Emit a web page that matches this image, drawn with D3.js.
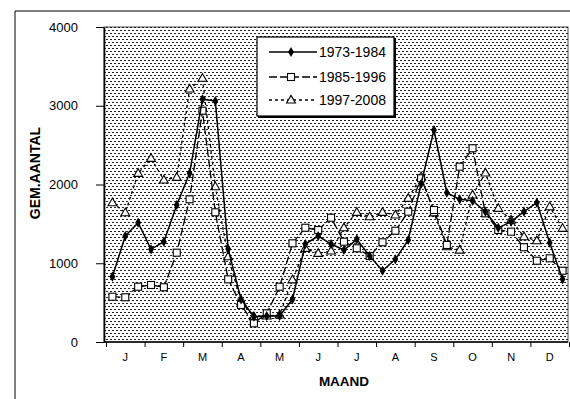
<!DOCTYPE html>
<html><head><meta charset="utf-8">
<script src="https://cdn.jsdelivr.net/npm/d3@7"></script>
<style>
body{margin:0;background:#fff}
svg{display:block}
text{font-family:Arial,"Liberation Sans",sans-serif;fill:#000}
</style></head>
<body><svg id="c" width="570" height="399"></svg>
<script>
// ---- data ----
const months = ["J","F","M","A","M","J","J","A","S","O","N","D"];
const seriesNames = ["1973-1984","1985-1996","1997-2008"];
const s1973 = [829,1346,1515, 1177,1274,1740, 2142,3082,3060, 1181,542,321, 330,330,542, 1244,1346,1244, 1168,1304,1092, 905,1050,1295, 2006,2692,1896, 1812,1794,1655, 1450,1528,1655, 1769,1261,796];
const s1985 = [575,568,702, 724,695,1134, 1812,2937,1647, 796,470,237, 364,702,1253, 1451,1422,1578, 1274,1190,1092, 1266,1413,1655, 2079,1676,1232, 2226,2460,1634, 1422,1401,1203, 1032,1063,905];
const s1997 = [1769,1642,2142, 2333,2057,2091, 3213,3349,1972, 1083,512,321, 330,343,790, 1190,1126,1156, 1451,1647,1591, 1647,1613,1825, 2099,1640,1210, 1168,1867,2146, 1698,1549,1337, 1286,1718,1444];
const yTicks = [0,1000,2000,3000,4000];

// ---- layout ----
const svg = d3.select("#c");
const L = 104, R = 568, T = 27, B = 342;
const xr = [106, 569];
const x = d3.scaleBand().domain(d3.range(36)).range(xr).padding(0);
const xm = d3.scaleBand().domain(d3.range(12)).range(xr).padding(0);
const xb = d3.scaleLinear().domain([0,12]).range(xr);
const y = d3.scaleLinear().domain([0,4000]).range([B,T]);
const cx = i => x(i) + x.bandwidth()/2;

// outer frame (scanned page)
svg.append("line").attr("x1",15).attr("x2",570).attr("y1",11).attr("y2",11).attr("stroke","#000").attr("stroke-width",1);
svg.append("line").attr("x1",15).attr("x2",15).attr("y1",11).attr("y2",399).attr("stroke","#000").attr("stroke-width",1);

// stipple pattern
const defs = svg.append("defs");
const pat = defs.append("pattern").attr("id","stip").attr("patternUnits","userSpaceOnUse").attr("width",4).attr("height",6);
pat.append("rect").attr("width",4).attr("height",6).attr("fill","#fff");
pat.append("rect").attr("x",0).attr("y",0).attr("width",2).attr("height",1).attr("fill","#222");
pat.append("rect").attr("x",2).attr("y",3).attr("width",2).attr("height",1).attr("fill","#222");

svg.append("rect").attr("x",L).attr("y",T).attr("width",R-L).attr("height",B-T)
  .attr("fill","url(#stip)").attr("stroke","#222").attr("stroke-width",0.8);

// y axis
const ya = svg.append("g").attr("transform",`translate(${L},0)`)
  .call(d3.axisLeft(y).tickValues(yTicks).tickSize(8).tickSizeOuter(0).tickPadding(18).tickFormat(d3.format("d")));
ya.select(".domain").attr("stroke-width",1.6);
ya.selectAll("text").style("font-size","13px").attr("font-family","Arial,'Liberation Sans',sans-serif");

// x axis: boundary ticks
const xa = svg.append("g").attr("transform",`translate(0,${B})`)
  .call(d3.axisBottom(xb).tickValues(d3.range(0,13)).tickSize(5).tickSizeOuter(0).tickFormat(""));
xa.select(".domain").attr("stroke-width",1.6).attr("d",`M${L},0H${R}`);
// month labels
const xl = svg.append("g").attr("transform",`translate(0,${B})`)
  .call(d3.axisBottom(xm).tickSize(0).tickPadding(11).tickFormat(i => months[i]));
xl.select(".domain").remove();
xl.selectAll("text").style("font-size","11px").attr("font-family","Arial,'Liberation Sans',sans-serif");

// axis titles
svg.append("text").attr("transform","translate(40,173) rotate(-90)").attr("text-anchor","middle")
  .style("font-size","14px").style("font-weight","bold").text("GEM.AANTAL");
svg.append("text").attr("x",344).attr("y",386).attr("text-anchor","middle")
  .style("font-size","13.5px").style("font-weight","bold").text("MAAND");

// series
const styles = [
  {data:s1973, dash:null, w:1.5, mark:"diamond"},
  {data:s1985, dash:"8,3", w:1.3, mark:"square"},
  {data:s1997, dash:"3,3", w:1.3, mark:"triangle"}
];
const line = d3.line().x((d,i)=>cx(i)).y(d=>y(d));
function marker(g, type, px, py){
  if(type==="diamond"){
    g.append("path").attr("d",d3.symbol(d3.symbolDiamond,30)()).attr("transform",`translate(${px},${py})`).attr("fill","#000");
  } else if(type==="square"){
    g.append("rect").attr("x",px-3.5).attr("y",py-3.5).attr("width",7).attr("height",7).attr("fill","#fff").attr("stroke","#000").attr("stroke-width",1.1);
  } else {
    g.append("path").attr("d",d3.symbol(d3.symbolTriangle,34)()).attr("transform",`translate(${px},${py+0.5})`).attr("fill","#fff").attr("stroke","#000").attr("stroke-width",1.1);
  }
}
const order = [2,1,0];
order.forEach(k=>{
  const s = styles[k];
  const g = svg.append("g");
  g.append("path").datum(s.data).attr("d",line).attr("fill","none").attr("stroke","#000")
    .attr("stroke-width",s.w).attr("stroke-dasharray",s.dash);
  s.data.forEach((d,i)=>marker(g,s.mark,cx(i),y(d)));
});

// legend
const lg = svg.append("g");
lg.append("rect").attr("x",258).attr("y",38).attr("width",138).attr("height",80).attr("fill","#000");
lg.append("rect").attr("x",257).attr("y",37).attr("width",137).attr("height",79).attr("fill","#fff").attr("stroke","#000").attr("stroke-width",1.2);
const rows = [52,77,100];
styles.forEach((s,k)=>{
  lg.append("line").attr("x1",269).attr("x2",317).attr("y1",rows[k]).attr("y2",rows[k])
    .attr("stroke","#000").attr("stroke-width",s.w).attr("stroke-dasharray",s.dash);
  marker(lg,s.mark,291,rows[k]);
  lg.append("text").attr("x",319).attr("y",rows[k]+5).style("font-size","14px").text(seriesNames[k]);
});
</script></body></html>
